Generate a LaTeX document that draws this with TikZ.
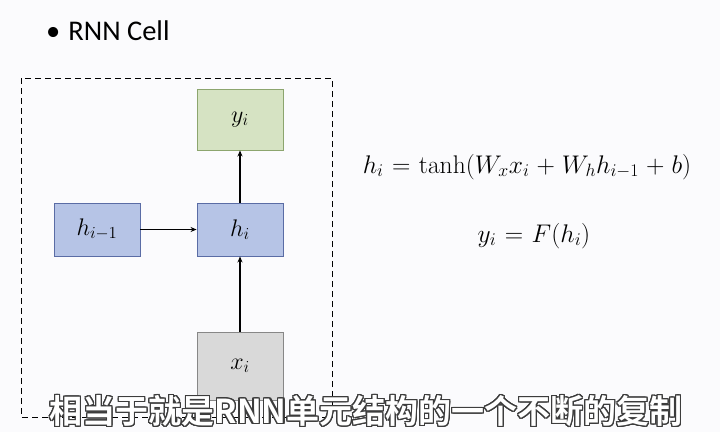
\RequirePackage{fix-cm}
\documentclass[tikz,border=0pt]{standalone}
\usepackage{fontspec}
\usepackage{amsmath}
\newfontfamily\titlefont{Carlito}
\newfontfamily\cjkfont{Noto Sans CJK SC}[BoldFont={* Bold}]
\usetikzlibrary{arrows.meta}
\definecolor{bgc}{RGB}{251,251,253}
\definecolor{bluefill}{RGB}{182,196,230}
\definecolor{blueline}{RGB}{90,108,165}
\definecolor{greenfill}{RGB}{214,227,195}
\definecolor{greenline}{RGB}{140,165,110}
\definecolor{grayfill}{RGB}{217,217,217}
\definecolor{grayline}{RGB}{135,135,135}
\definecolor{outl}{RGB}{60,60,60}
\newcommand{\widemath}{\medmuskip=5mu \thickmuskip=6mu }
\tikzset{
  cellbox/.style={draw, line width=0.9pt, minimum width=86pt, inner sep=0pt,
    font=\fontsize{24}{28}\selectfont},
  hbox/.style={cellbox, fill=bluefill, draw=blueline, minimum height=53pt},
  ybox/.style={cellbox, fill=greenfill, draw=greenline, minimum height=61pt},
  xbox/.style={cellbox, fill=grayfill, draw=grayline, minimum height=68pt},
  conn/.style={line width=1.5pt, -{Stealth[length=6pt,width=5pt]}},
  eqn/.style={font=\fontsize{25.5}{29}\selectfont, inner sep=0pt, anchor=base},
  subt/.style={font=\cjkfont\bfseries\fontsize{33}{36}\selectfont, inner sep=0pt}
}
\begin{document}
\begin{tikzpicture}[x=1pt,y=-1pt]
\fill[bgc] (0,0) rectangle (720,432);
\useasboundingbox (0,0) rectangle (720,432);
% title
\node[anchor=base west, inner sep=0pt, font=\titlefont\fontsize{28.5}{31}\selectfont] (title) at (46,40) {\textbullet\hspace{8pt}RNN Cell};
% dashed frame
\draw[dashed, dash pattern=on 6pt off 4pt, line width=1pt] (21,78) rectangle (332,417);
% boxes
\node[ybox] (y) at (240,119.5) {$y_i$};
\node[hbox] (hp) at (97,229.5) {$h_{i-1}$};
\node[hbox] (h) at (240,229.5) {$h_i$};
\node[xbox] (x) at (240,366) {$x_i$};
% connectors
\draw[conn] (hp) -- (h);
\draw[conn] (h) -- (y);
\draw[conn] (x) -- (h);
% equations
\node[eqn] (eq1) at (527,173) {$\widemath h_i = \tanh(W_x x_i + W_h h_{i-1} + b)$};
\node[eqn] (eq2) at (534,242) {$\widemath y_i = F(h_i)$};
% subtitle with outline
\foreach \a in {0,22.5,...,337.5}{
  \node[subt, text=outl] (sub\a) at ([shift={(\a:1.4pt)}]366,411) {相当于就是RNN单元结构的一个不断的复制};
}
\node[subt, text=white] (sub) at (366,411) {相当于就是RNN单元结构的一个不断的复制};
\end{tikzpicture}
\end{document}
